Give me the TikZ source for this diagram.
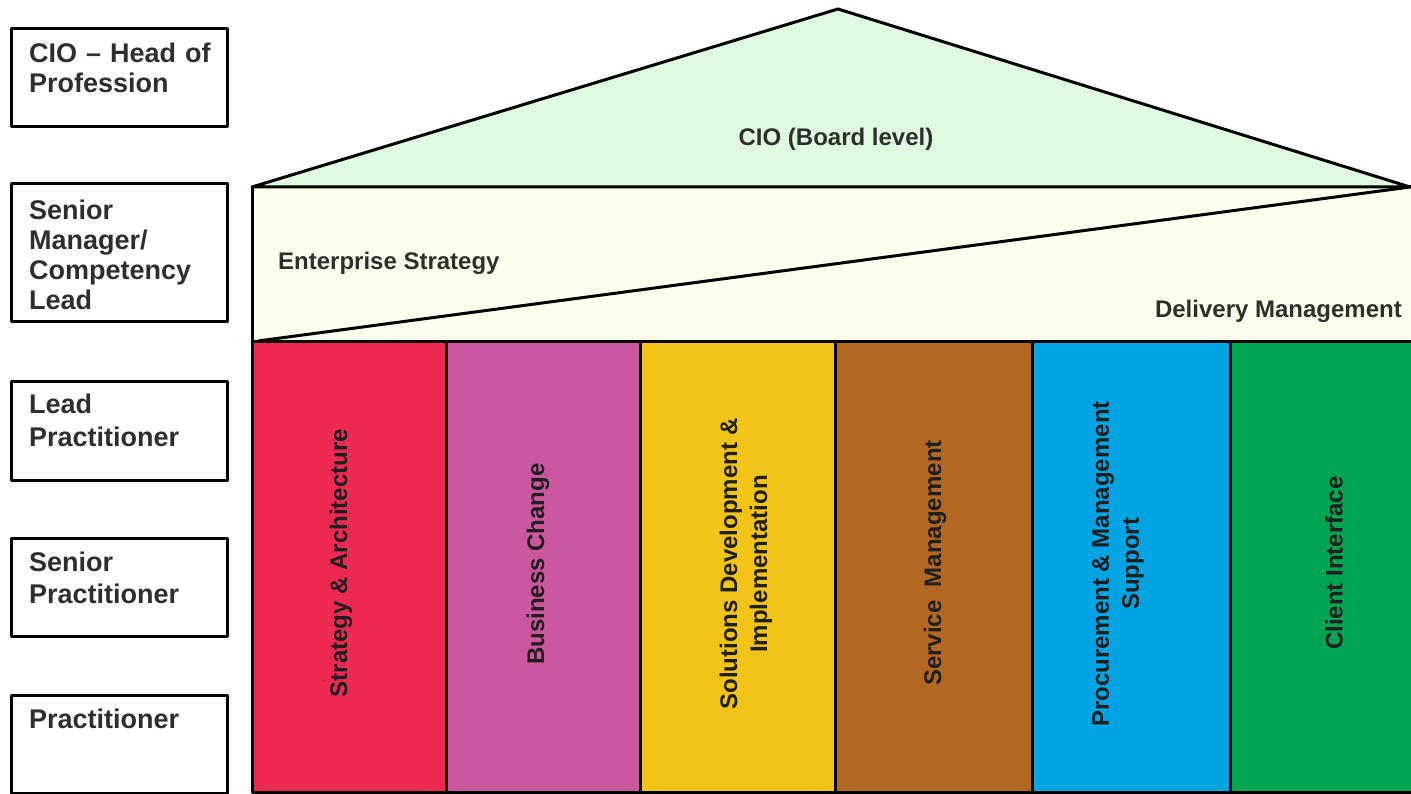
\documentclass[tikz,border=0pt]{standalone}
\usepackage{fontspec}
\setmainfont{Liberation Sans}
\definecolor{roofgreen}{HTML}{E0FAE0}
\definecolor{cream}{HTML}{FEFEEC}
\definecolor{cred}{HTML}{EE2A53}
\definecolor{cpink}{HTML}{CB579E}
\definecolor{cyellow}{HTML}{F2C417}
\definecolor{cbrown}{HTML}{B26722}
\definecolor{cblue}{HTML}{00A4E2}
\definecolor{cgreen}{HTML}{00A551}
\definecolor{lbl}{HTML}{2E2E2E}
\begin{document}
\begin{tikzpicture}[x=1pt,y=-1pt,line join=round,
  levelbox/.style={draw=black,line width=3pt,fill=white,anchor=north west,
    inner sep=0pt,outer sep=0pt,minimum width=216pt},
  leveltext/.style={anchor=base west,inner sep=0pt,text width=195pt,align=left,
    text=lbl,font=\bfseries\fontsize{27}{#1}\selectfont},
  leveltext/.default=30,
  column/.style={draw=black,line width=3pt,anchor=north west,inner sep=0pt,
    outer sep=0pt,minimum height=451pt},
  coltext/.style={rotate=90,inner sep=0pt,align=center,text=black!88,
    font=\bfseries\fontsize{24}{30}\selectfont},
  rooftext/.style={inner sep=0pt,text=lbl,font=\bfseries\fontsize{24}{29}\selectfont}]
\useasboundingbox (0,0) rectangle (1411,794);

% career levels
\node[levelbox,minimum height=98pt] (lv1) at (11,29) {};
\node[levelbox,minimum height=138pt] (lv2) at (11,184) {};
\node[levelbox,minimum height=99pt] (lv3) at (11,381) {};
\node[levelbox,minimum height=98pt] (lv4) at (11,538) {};
\node[levelbox,minimum height=98pt] (lv5) at (11,695) {};
\node[leveltext] (lt1) at (29,63) {CIO – Head of\\Profession};
\node[leveltext] (lt2) at (29,220) {Senior\\Manager/\\Competency\\Lead};
\node[leveltext=33] (lt3) at (29,413) {Lead\\Practitioner};
\node[leveltext=32] (lt4) at (29,571) {Senior\\Practitioner};
\node[leveltext] (lt5) at (29,728) {Practitioner};

% management band under the roof
\fill[cream] (252,187) rectangle (1415,341);
\draw[line width=3pt] (252,341) -- (252,187) -- (1415,187);
\draw[line width=3pt] (258,341) -- (1410,187);

% roof
\draw[line width=3pt,fill=roofgreen] (252,187) -- (838,9) -- (1410,187) -- cycle;
\node[rooftext] (board) at (836,139) {CIO (Board level)};
\node[rooftext,anchor=base west] (ent) at (278,270) {Enterprise Strategy};
\node[rooftext,anchor=base east] (dlv) at (1402,318) {Delivery Management};

% competency columns
\node[column,fill=cred,minimum width=194pt] (c1) at (252,341) {};
\node[column,fill=cpink,minimum width=194pt] (c2) at (446,341) {};
\node[column,fill=cyellow,minimum width=195pt] (c3) at (640,341) {};
\node[column,fill=cbrown,minimum width=197pt] (c4) at (835,341) {};
\node[column,fill=cblue,minimum width=198pt] (c5) at (1032,341) {};
\node[column,fill=cgreen,minimum width=190pt] (c6) at (1230,341) {};

\node[coltext] (t1) at (341,563) {Strategy \& Architecture};
\node[coltext] (t2) at (538,564) {Business Change};
\node[coltext] (t3) at (746,564) {Solutions Development \&\\Implementation};
\node[coltext] (t4) at (935,563) {Service\ \ Management};
\node[coltext] (t5) at (1118,564) {Procurement \& Management\\Support};
\node[coltext] (t6) at (1334,563) {Client Interface};
\end{tikzpicture}
\end{document}
